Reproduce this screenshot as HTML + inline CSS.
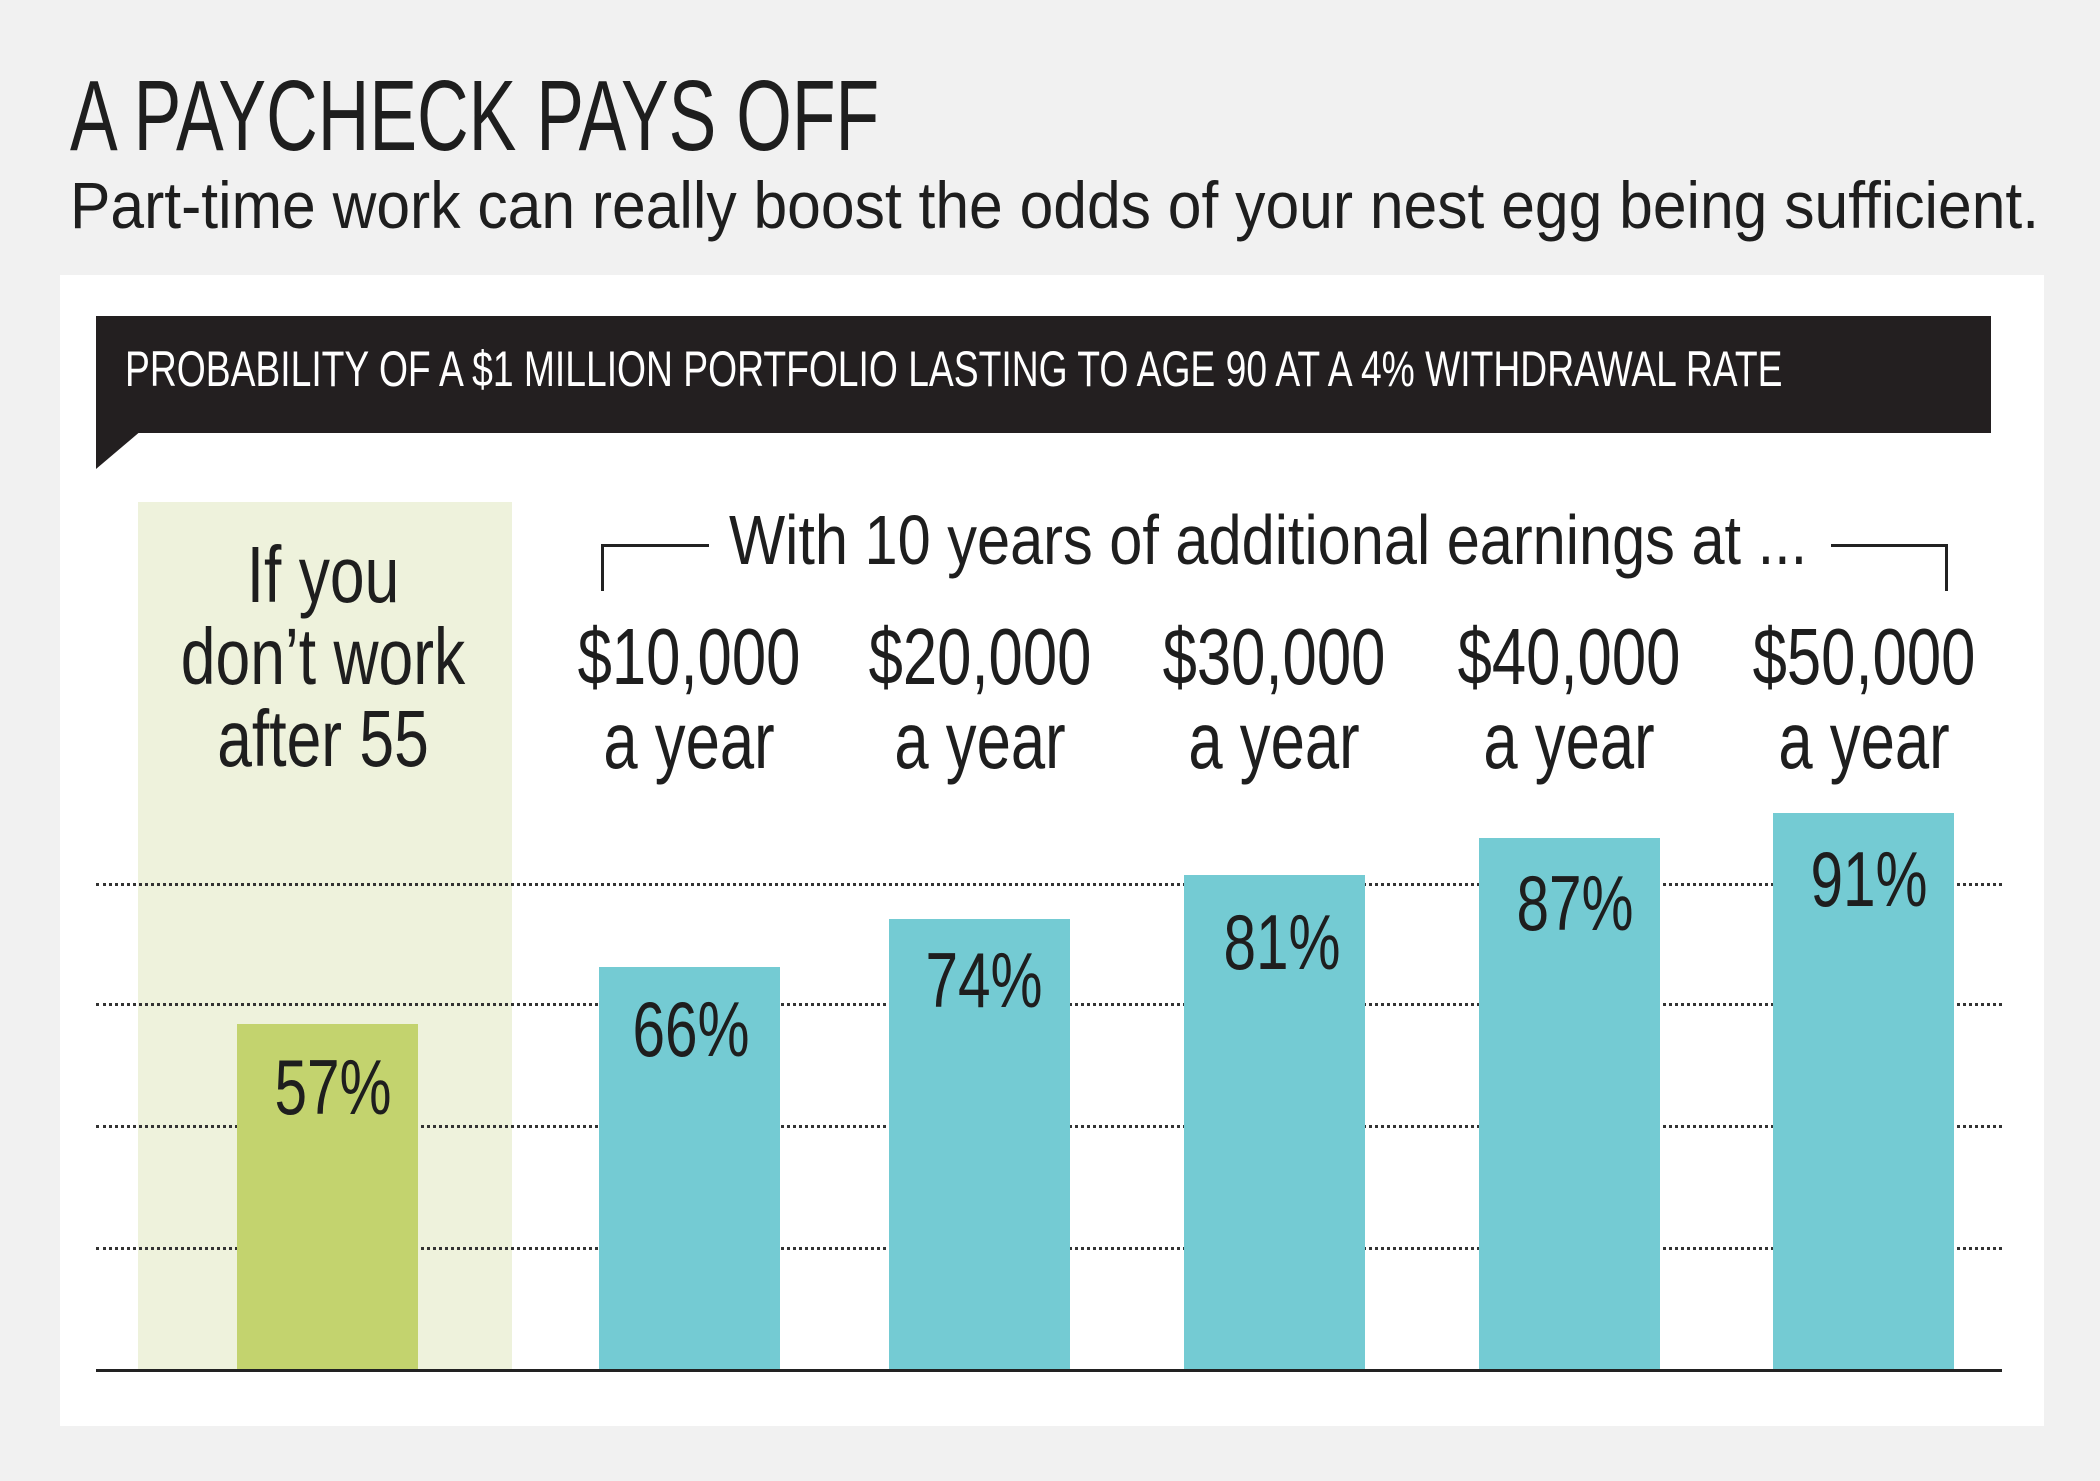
<!DOCTYPE html>
<html><head><meta charset="utf-8"><style>
body{margin:0;width:2100px;height:1481px;background:#f1f1f1;position:relative;overflow:hidden;font-family:"Liberation Sans",sans-serif;color:#1e1e1e}
.a{position:absolute;white-space:nowrap}
.l{transform-origin:0 50%}
.dot{position:absolute;left:96px;width:1906px;height:0;border-top:3px dotted #333}
.bar{position:absolute;width:181px;bottom:111px}
.lab{position:absolute;white-space:nowrap;font-size:80px;line-height:84px;text-align:center;transform:translateX(-50%) scaleX(0.77)}
.pct{position:absolute;font-size:78px;line-height:78px;transform:translateX(-50%) scaleX(0.75)}
</style></head><body>
<div class="a l" style="left:70px;top:66px;font-size:100px;line-height:100px;transform:scaleX(0.715)">A PAYCHECK PAYS OFF</div>
<div class="a l" style="left:70px;top:170px;font-size:66px;line-height:70px;transform:scaleX(0.918)">Part-time work can really boost the odds of your nest egg being sufficient.</div>
<div class="a" style="left:60px;top:275px;width:1984px;height:1151px;background:#fff"></div>
<div class="a" style="left:96px;top:316px;width:1895px;height:117px;background:#231f20"></div>
<svg class="a" style="left:96px;top:430px" width="50" height="42"><polygon points="0,0 46,0 0,39" fill="#231f20"/></svg>
<div class="a l" style="left:125px;top:342px;font-size:50px;line-height:54px;color:#fff;transform:scaleX(0.745)">PROBABILITY OF A $1 MILLION PORTFOLIO LASTING TO AGE 90 AT A 4% WITHDRAWAL RATE</div>
<div class="a" style="left:138px;top:502px;width:374px;height:868px;background:#eef2dc"></div>
<div class="dot" style="top:883px"></div>
<div class="dot" style="top:1003px"></div>
<div class="dot" style="top:1125px"></div>
<div class="dot" style="top:1247px"></div>
<div class="bar" style="left:237px;top:1024px;background:#c3d36e"></div>
<div class="bar" style="left:599px;top:967px;background:#74cbd3"></div>
<div class="bar" style="left:889px;top:919px;background:#74cbd3"></div>
<div class="bar" style="left:1184px;top:875px;background:#74cbd3"></div>
<div class="bar" style="left:1479px;top:838px;background:#74cbd3"></div>
<div class="bar" style="left:1773px;top:813px;background:#74cbd3"></div>
<div class="a" style="left:96px;top:1369px;width:1906px;height:3px;background:#222"></div>
<div class="pct" style="left:333px;top:1048px">57%</div>
<div class="pct" style="left:691px;top:990px">66%</div>
<div class="pct" style="left:984px;top:941px">74%</div>
<div class="pct" style="left:1282px;top:903px">81%</div>
<div class="pct" style="left:1575px;top:864px">87%</div>
<div class="pct" style="left:1869px;top:840px">91%</div>
<div class="lab" style="left:323px;top:534px;line-height:82px;transform:translateX(-50%) scaleX(0.78)">If you<br>don’t work<br>after 55</div>
<div class="lab" style="left:689px;top:615px">$10,000<br>a year</div>
<div class="lab" style="left:980px;top:615px">$20,000<br>a year</div>
<div class="lab" style="left:1274px;top:615px">$30,000<br>a year</div>
<div class="lab" style="left:1569px;top:615px">$40,000<br>a year</div>
<div class="lab" style="left:1864px;top:615px">$50,000<br>a year</div>
<div class="a l" style="left:729px;top:504px;font-size:70px;line-height:72px;transform:scaleX(0.85)">With 10 years of additional earnings at ...</div>
<div class="a" style="left:601px;top:544px;width:105px;height:44px;border-top:3px solid #222;border-left:3px solid #222"></div>
<div class="a" style="left:1831px;top:544px;width:114px;height:44px;border-top:3px solid #222;border-right:3px solid #222"></div>
</body></html>
